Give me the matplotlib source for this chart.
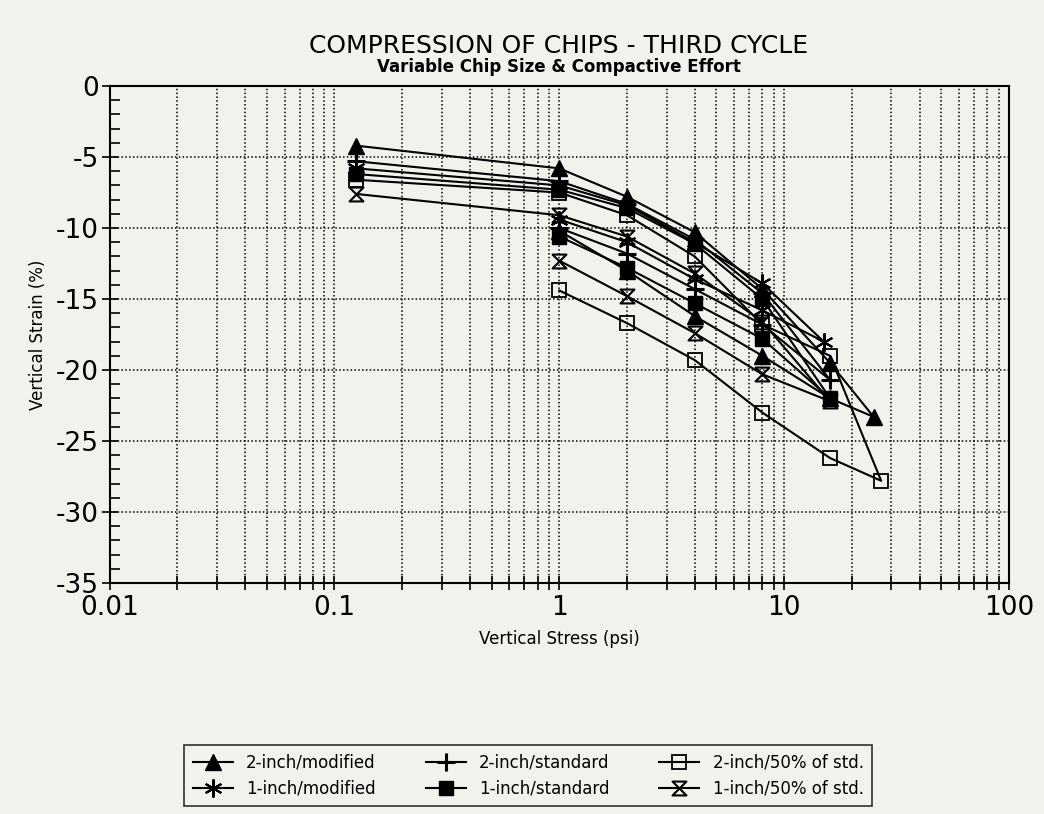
import numpy as np
import matplotlib.pyplot as plt
from matplotlib.path import Path
from matplotlib.ticker import MultipleLocator, LogLocator, NullFormatter

plt.rcParams['axes.unicode_minus'] = False

# stress (psi) / strain (%) for each test - loading then unloading
tri_stress = [0.125, 1, 2, 4, 8, 16, 25, 16, 8, 4, 2, 1]
tri_strain = [-4.2, -5.8, -7.8, -10.3, -14.3, -19.5, -23.3, -22.0, -19.0, -16.2, -13.0, -10.2]

ast_stress = [0.125, 1, 2, 4, 8, 15, 8, 4, 2, 1]
ast_strain = [-5.8, -7.0, -8.4, -11.0, -13.9, -18.0, -15.8, -13.6, -11.0, -9.4]

plus_stress = [0.125, 1, 2, 4, 8, 16, 8, 4, 2, 1]
plus_strain = [-5.3, -6.7, -8.3, -10.8, -14.6, -20.7, -16.8, -14.3, -11.8, -10.0]

fsq_stress = [0.125, 1, 2, 4, 8, 16, 8, 4, 2, 1]
fsq_strain = [-6.2, -7.3, -8.6, -11.1, -15.0, -22.0, -17.8, -15.3, -12.8, -10.6]

osq_stress = [0.125, 1, 2, 4, 8, 16, 27, 16, 8, 4, 2, 1]
osq_strain = [-6.6, -7.5, -9.1, -12.0, -16.8, -19.0, -27.8, -26.2, -23.0, -19.3, -16.7, -14.4]

hg_stress = [0.125, 1, 2, 4, 8, 16, 8, 4, 2, 1]
hg_strain = [-7.6, -9.1, -10.6, -13.2, -16.6, -22.2, -20.3, -17.4, -14.8, -12.3]

labels = ['2-inch/modified', '1-inch/modified', '2-inch/standard',
          '1-inch/standard', '2-inch/50% of std.', '1-inch/50% of std.']

# hourglass marker
hourglass = Path([(-1, 1), (1, 1), (-1, -1), (1, -1), (-1, 1)],
                 [Path.MOVETO, Path.LINETO, Path.LINETO, Path.LINETO, Path.CLOSEPOLY])

bg = '#f3f1ec'
fig = plt.figure(figsize=(10.44, 8.14), dpi=100, facecolor=bg)
ax = fig.add_axes([0.105, 0.2838, 0.8615, 0.6105], facecolor=bg)

lw = 1.5
kw = dict(color='black', lw=lw, mec='black')
ax.plot(tri_stress, tri_strain, marker='^', ms=12, mfc='black', label=labels[0], **kw)
ax.plot(ast_stress, ast_strain, marker=(6, 2, 0), ms=13, mew=1.5, label=labels[1], **kw)
ax.plot(plus_stress, plus_strain, marker='+', ms=13, mew=2.2, label=labels[2], **kw)
ax.plot(fsq_stress, fsq_strain, marker='s', ms=10, mfc='black', label=labels[3], **kw)
ax.plot(osq_stress, osq_strain, marker='s', ms=10, mfc='none', mew=1.3, label=labels[4], **kw)
ax.plot(hg_stress, hg_strain, marker=hourglass, ms=10, mfc='none', mew=1.5, label=labels[5], **kw)

ax.set_xscale('log')
ax.set_xlim(0.01, 100)
ax.set_ylim(-35, 0)
ax.xaxis.set_major_locator(LogLocator(base=10))
ax.xaxis.set_minor_locator(LogLocator(base=10, subs=np.arange(2, 10)))
ax.xaxis.set_minor_formatter(NullFormatter())
ax.set_xticks([0.01, 0.1, 1, 10, 100])
ax.set_xticklabels(['0.01', '0.1', '1', '10', '100'])
ax.yaxis.set_major_locator(MultipleLocator(5))
ax.yaxis.set_minor_locator(MultipleLocator(1))

ax.grid(True, which='major', axis='y', ls=(0, (1, 1.5)), color='black', lw=1.1)
ax.grid(True, which='both', axis='x', ls=(0, (1, 1.5)), color='black', lw=1.1)
ax.set_axisbelow(True)

ax.tick_params(axis='x', which='both', direction='inout', length=10, width=1.2,
               labelsize=19, pad=4, top=False)
ax.tick_params(axis='y', which='major', direction='inout', length=12, width=1.2,
               labelsize=19, pad=2, right=False)
ax.tick_params(axis='y', which='minor', direction='in', length=7, width=1.2, right=False)
for s in ax.spines.values():
    s.set_linewidth(1.5)

ax.set_xlabel('Vertical Stress (psi)', fontsize=12, labelpad=6)
ax.set_ylabel('Vertical Strain (%)', fontsize=12, labelpad=6)

fig.text(0.535, 0.935, 'COMPRESSION OF CHIPS - THIRD CYCLE', ha='center', fontsize=18)
fig.text(0.535, 0.912, 'Variable Chip Size & Compactive Effort', ha='center',
         fontsize=12, fontweight='bold')

leg = fig.legend(loc='center', bbox_to_anchor=(0.506, 0.047), ncol=3,
                 fontsize=12, frameon=True, fancybox=False, edgecolor='black',
                 facecolor=bg, handlelength=2.4, columnspacing=3.0, borderpad=0.5,
                 labelspacing=0.5)
leg.get_frame().set_linewidth(1.2)

fig.savefig('out.png', dpi=100, facecolor=bg)
